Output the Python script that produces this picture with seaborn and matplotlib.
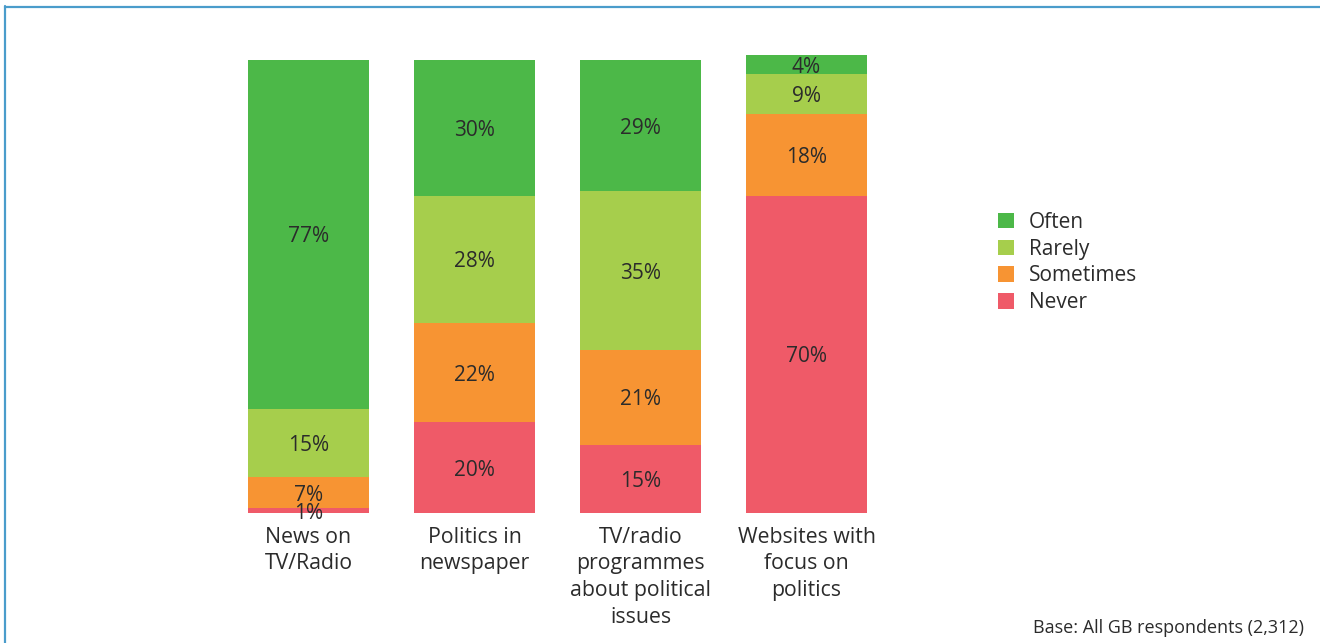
import matplotlib
matplotlib.use("Agg")
import matplotlib.pyplot as plt
from matplotlib.lines import Line2D
from matplotlib.patches import Patch
import seaborn as sns
import numpy as np

# Survey data: how often respondents follow politics through each medium (%)
categories = [
    "News on\nTV/Radio",
    "Politics in\nnewspaper",
    "TV/radio\nprogrammes\nabout political\nissues",
    "Websites with\nfocus on\npolitics",
]
often = [77, 30, 29, 4]
rarely = [15, 28, 35, 9]
sometimes = [7, 22, 21, 18]
never = [1, 20, 15, 70]

levels = ["Often", "Rarely", "Sometimes", "Never"]
colors = {"Often": "#4cb848", "Rarely": "#a6ce4c", "Sometimes": "#f79433", "Never": "#ef5a68"}
base_note = "Base: All GB respondents (2,312)"

sns.set_theme(style="white")
plt.rcParams["font.family"] = ["Open Sans", "DejaVu Sans"]
text_color = "#2b2b2b"

fig = plt.figure(figsize=(13.2, 6.43), dpi=100)
ax = fig.add_axes([225.5 / 1320, 1 - 513 / 643, 664 / 1320, 453 / 643])

# Stack from the bottom: Never, Sometimes, Rarely, Often
stack_order = ["Never", "Sometimes", "Rarely", "Often"]
series = {"Often": often, "Rarely": rarely, "Sometimes": sometimes, "Never": never}
cum = np.zeros(len(categories))
bottoms = {}
tops = {}
for lvl in stack_order:
    bottoms[lvl] = cum.copy()
    cum = cum + np.array(series[lvl], dtype=float)
    tops[lvl] = cum.copy()

# Draw cumulative totals from the tallest down so each layer shows its own segment
for lvl in reversed(stack_order):
    sns.barplot(x=categories, y=tops[lvl], color=colors[lvl], saturation=1,
                width=0.73, ax=ax, order=categories, linewidth=0)

for p in ax.patches:
    p.set_clip_on(False)

for lvl in stack_order:
    for i, v in enumerate(series[lvl]):
        mid = bottoms[lvl][i] + v / 2
        ax.text(i, mid, f"{v}%", ha="center", va="center_baseline", fontsize=15,
                color=text_color)

ax.set_xlim(-0.5, 3.5)
ax.set_ylim(0, 100)
ax.set_yticks([])
ax.set_ylabel("")
ax.set_xlabel("")
for s in ax.spines.values():
    s.set_visible(False)
ax.tick_params(axis="x", length=0, pad=10, labelsize=15.3, labelcolor=text_color)
ax.set_xticks(range(len(categories)))
ax.set_xticklabels(categories, linespacing=1.35, va="top")

handles = [Patch(facecolor=colors[l], edgecolor="none", label=l) for l in levels]
fig.legend(handles=handles, loc="upper left", bbox_to_anchor=(979 / 1320, 1 - 193 / 643),
           frameon=False, fontsize=15, handlelength=0.78, handleheight=0.78,
           handletextpad=0.72, labelspacing=0.28, labelcolor=text_color)

fig.text(1304 / 1320, 1 - 628 / 643, base_note, ha="right", va="center",
         fontsize=13, color=text_color)

# Frame lines along the left and top edges
frame_color = "#4a9ccb"
fig.add_artist(Line2D([5 / 1320, 5 / 1320], [0, 1 - 6 / 643], color=frame_color,
                      linewidth=1.6, transform=fig.transFigure))
fig.add_artist(Line2D([5 / 1320, 1], [1 - 6.5 / 643, 1 - 6.5 / 643], color=frame_color,
                      linewidth=1.6, transform=fig.transFigure))

fig.savefig("out.png", dpi=100)
